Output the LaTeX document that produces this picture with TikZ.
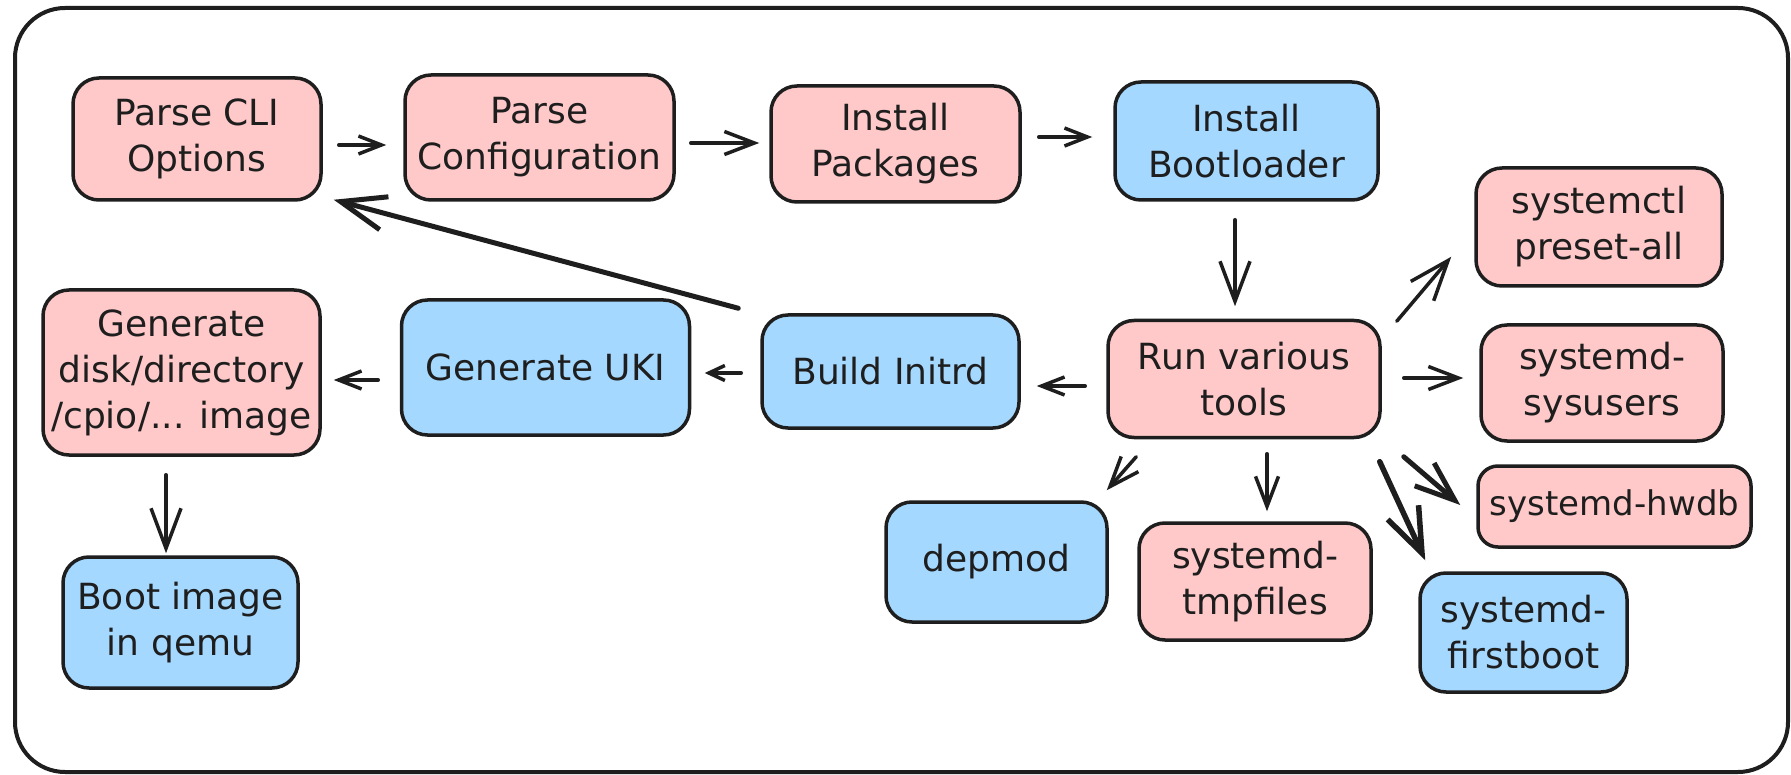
\documentclass[tikz,border=0pt]{standalone}
\usepackage{fontspec}
\setmainfont{DejaVu Sans}
\usetikzlibrary{arrows.meta,calc}
\definecolor{pinkfill}{HTML}{FFC9C9}
\definecolor{bluefill}{HTML}{A5D8FF}
\definecolor{ink}{HTML}{1E1E1E}
\tikzset{
  box/.style={draw=ink, line width=3.5pt, rounded corners=26pt, align=center, text=ink,
    inner sep=0pt, font=\fontsize{36}{46}\selectfont},
  pinkbox/.style={box, fill=pinkfill},
  bluebox/.style={box, fill=bluefill},
  conn/.style={draw=ink, line width=3.5pt, line cap=round, line join=round},
  hXS/.style={-{Straight Barb[length=16pt,width=15pt]}},
  hS/.style={-{Straight Barb[length=23pt,width=18pt]}},
  hM/.style={-{Straight Barb[length=30pt,width=23pt]}},
  hL/.style={-{Straight Barb[length=40pt,width=30pt]}},
  hXL/.style={-{Straight Barb[length=45pt,width=34pt]}},
  frame/.style={draw=ink, line width=4pt, rounded corners=50pt}
}
\begin{document}
\begin{tikzpicture}[x=1pt,y=-1pt]
\useasboundingbox (0,0) rectangle (1791,775);
\fill[white] (0,0) rectangle (1791,775);
\draw[frame] (15,8) rectangle (1788,772);

% nodes
\node[pinkbox, minimum width=248pt, minimum height=122pt] (cli) at (197,139) {Parse CLI\\Options};
\node[pinkbox, minimum width=269pt, minimum height=125pt] (conf) at (539.5,137.5) {Parse\\Configuration};
\node[pinkbox, minimum width=249pt, minimum height=116pt] (pkg) at (895.5,144) {Install\\Packages};
\node[bluebox, minimum width=263pt, minimum height=118pt] (boot) at (1246.5,141) {Install\\Bootloader};
\node[pinkbox, minimum width=246pt, minimum height=118pt] (sysctl) at (1599,227) {systemctl\\preset-all};
\node[pinkbox, minimum width=272pt, minimum height=117pt] (run) at (1244,379) {Run various\\tools};
\node[pinkbox, minimum width=242pt, minimum height=116pt] (sysusers) at (1602,383) {systemd-\\sysusers};
\node[pinkbox, minimum width=273pt, minimum height=81pt, rounded corners=20pt,
      font=\fontsize{34}{44}\selectfont] (hwdb) at (1614.5,506.5) {systemd-hwdb};
\node[bluebox, minimum width=207pt, minimum height=119pt] (firstboot) at (1523.5,632.5) {systemd-\\firstboot};
\node[pinkbox, minimum width=232pt, minimum height=117pt] (tmpfiles) at (1255,581.5) {systemd-\\tmpfiles};
\node[bluebox, minimum width=221pt, minimum height=120pt] (depmod) at (996.5,562) {depmod};
\node[bluebox, minimum width=257pt, minimum height=113pt] (initrd) at (890.5,371.5) {Build Initrd};
\node[bluebox, minimum width=288pt, minimum height=135pt] (uki) at (545.5,367.5) {Generate UKI};
\node[pinkbox, minimum width=277pt, minimum height=165pt] (gen) at (181.5,372.5) {Generate\\disk/directory\\/cpio/... image};
\node[bluebox, minimum width=235pt, minimum height=131pt] (qemu) at (180.5,622.5) {Boot image\\in qemu};

% connectors
\draw[conn,hS] ($(cli.east)+(16,6)$) -- ($(conf.west)+(-17,7.5)$);
\draw[conn,hM] ($(conf.east)+(15,5.5)$) -- ($(pkg.west)+(-10,-1)$);
\draw[conn,hS] ($(pkg.east)+(17,-7)$) -- ($(boot.west)+(-21,-4)$);
\draw[conn,hL] ($(boot.south)+(-11.5,18)$) -- ($(run.north)+(-9,-12.5)$);
\draw[conn,hL] ($(run.north east)+(15,2.5)$) -- ($(sysctl.south west)+(-23,-31)$);
\draw[conn,hM] ($(run.east)+(22,-1)$) -- ($(sysusers.west)+(-16,-5)$);
\draw[conn,hS] ($(run.west)+(-21,7)$) -- ($(initrd.east)+(16,14.5)$);
\draw[conn,hXS] ($(initrd.west)+(-19,1.5)$) -- ($(uki.east)+(13.5,5.5)$);
\draw[conn,hS] ($(uki.west)+(-21.5,12.5)$) -- ($(gen.east)+(12,7.5)$);
\draw[conn,hXL,line width=5pt] ($(initrd.north west)+(-22,-5)$) -- ($(cli.south east)+(11,-2)$);
\draw[conn,hL] ($(gen.south)+(-15.5,18)$) -- ($(qemu.north)+(-14.5,-2)$);
\draw[conn,hM] ($(run.south west)+(30,17.5)$) -- ($(depmod.north east)+(-2,-10)$);
\draw[conn,hM] ($(run.south)+(23,14.5)$) -- ($(tmpfiles.north)+(12,-10)$);
\draw[conn,hL,line width=5pt] ($(run.south east)+(22,17.5)$) -- ($(hwdb.west)+(-16,-1.5)$);
\draw[conn,hXL,line width=5.5pt] ($(run.south east)+(-2,22.5)$) -- ($(firstboot.north west)+(7,-11)$);
\end{tikzpicture}
\end{document}
